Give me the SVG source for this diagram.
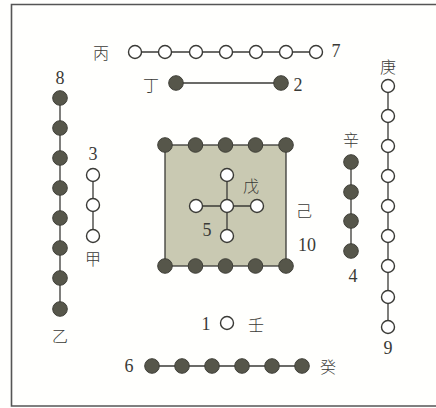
<svg xmlns="http://www.w3.org/2000/svg" width="436" height="408" viewBox="0 0 436 408">
<style>
.ln{stroke:#3a3a36;stroke-width:1.3;fill:none}
.o{fill:#fff;stroke:#3a3a36;stroke-width:1.4}
.f{fill:#56564a;stroke:#3f3f38;stroke-width:1}
.n{font-family:"Liberation Serif",serif;font-size:18px;fill:#3a3a36;text-anchor:middle;dominant-baseline:central}
.c{font-family:"Noto Sans CJK SC",sans-serif;font-size:16px;font-weight:300;fill:#3a3a36;text-anchor:middle;dominant-baseline:central}
</style>
<defs>
<circle id="oc" r="6.5" class="o"/>
<circle id="fc" r="7.3" class="f"/>
</defs>
<rect width="436" height="408" fill="#fffffd"/>
<path d="M436,4.5 H11.5 V406 H436" fill="none" stroke="#555" stroke-width="1.6"/>
<g id="center-square">
<rect x="165" y="145" width="121" height="121" fill="#c9c9b2" stroke="#3a3a36" stroke-width="1.3"/>
<text class="c" x="304" y="210">己</text>
<text class="n" x="307" y="245">10</text>
</g>
<g id="connectors">
<line class="ln" x1="135" y1="52" x2="316" y2="52"/>
<line class="ln" x1="176" y1="83" x2="281" y2="83"/>
<line class="ln" x1="60" y1="98" x2="60" y2="309"/>
<line class="ln" x1="93" y1="175" x2="93" y2="236"/>
<line class="ln" x1="351" y1="162" x2="351" y2="251"/>
<line class="ln" x1="388" y1="86" x2="388" y2="327"/>
<line class="ln" x1="152" y1="366" x2="302" y2="366"/>
<line class="ln" x1="227" y1="175" x2="227" y2="236"/>
<line class="ln" x1="196" y1="206" x2="257" y2="206"/>
</g>
<g id="square-dots">
<use href="#fc" x="165" y="145"/><use href="#fc" x="195.5" y="145"/><use href="#fc" x="225.5" y="145"/><use href="#fc" x="255.5" y="145"/><use href="#fc" x="286" y="145"/>
<use href="#fc" x="165" y="266"/><use href="#fc" x="195.5" y="266"/><use href="#fc" x="225.5" y="266"/><use href="#fc" x="255.5" y="266"/><use href="#fc" x="286" y="266"/>
</g>
<g id="center-cross">
<use href="#oc" x="227" y="175"/><use href="#oc" x="196" y="206"/><use href="#oc" x="227" y="206"/><use href="#oc" x="257" y="206"/><use href="#oc" x="227" y="236"/>
<text class="c" x="251" y="185">戊</text>
<text class="n" x="207" y="230">5</text>
</g>
<g id="top-seven">
<text class="c" x="101" y="52">丙</text>
<use href="#oc" x="135" y="52"/><use href="#oc" x="165" y="52"/><use href="#oc" x="196" y="52"/><use href="#oc" x="226" y="52"/><use href="#oc" x="256" y="52"/><use href="#oc" x="286" y="52"/><use href="#oc" x="316" y="52"/>
<text class="n" x="336" y="51">7</text>
</g>
<g id="top-two">
<text class="c" x="151" y="84">丁</text>
<use href="#fc" x="176" y="83"/><use href="#fc" x="281" y="83"/>
<text class="n" x="298" y="85">2</text>
</g>
<g id="left-eight">
<text class="n" x="60" y="78">8</text>
<use href="#fc" x="60" y="98"/><use href="#fc" x="60" y="128"/><use href="#fc" x="60" y="158"/><use href="#fc" x="60" y="188"/><use href="#fc" x="60" y="218"/><use href="#fc" x="60" y="248"/><use href="#fc" x="60" y="278"/><use href="#fc" x="60" y="309"/>
<text class="c" x="60" y="335">乙</text>
</g>
<g id="left-three">
<text class="n" x="93" y="154">3</text>
<use href="#oc" x="93" y="175"/><use href="#oc" x="93" y="205"/><use href="#oc" x="93" y="236"/>
<text class="c" x="93" y="258">甲</text>
</g>
<g id="right-four">
<text class="c" x="351" y="139">辛</text>
<use href="#fc" x="351" y="162"/><use href="#fc" x="351" y="192"/><use href="#fc" x="351" y="221"/><use href="#fc" x="351" y="251"/>
<text class="n" x="353" y="276">4</text>
</g>
<g id="right-nine">
<text class="c" x="388" y="66">庚</text>
<use href="#oc" x="388" y="86"/><use href="#oc" x="388" y="116"/><use href="#oc" x="388" y="146"/><use href="#oc" x="388" y="176"/><use href="#oc" x="388" y="206"/><use href="#oc" x="388" y="236"/><use href="#oc" x="388" y="266"/><use href="#oc" x="388" y="297"/><use href="#oc" x="388" y="327"/>
<text class="n" x="388" y="348">9</text>
</g>
<g id="bottom-one">
<text class="n" x="206" y="324">1</text>
<use href="#oc" x="227" y="323"/>
<text class="c" x="256" y="324">壬</text>
</g>
<g id="bottom-six">
<text class="n" x="129" y="366">6</text>
<use href="#fc" x="152" y="366"/><use href="#fc" x="182" y="366"/><use href="#fc" x="212" y="366"/><use href="#fc" x="242" y="366"/><use href="#fc" x="272" y="366"/><use href="#fc" x="302" y="366"/>
<text class="c" x="328" y="366">癸</text>
</g>
</svg>
